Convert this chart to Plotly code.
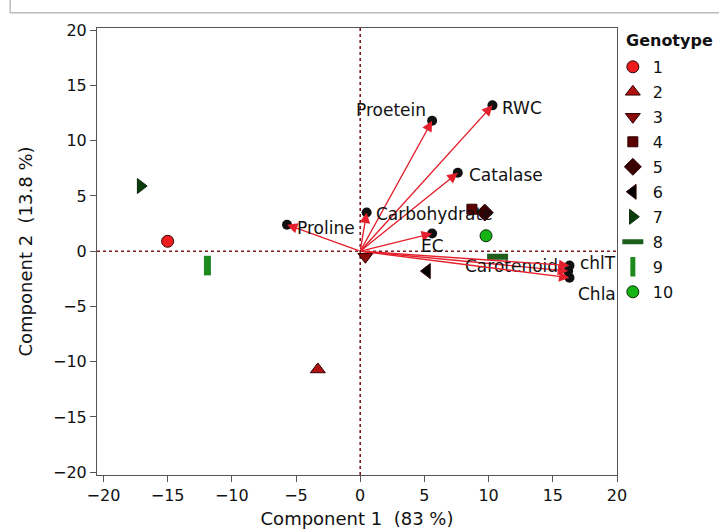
import plotly.graph_objects as go

# Genotype scores
genotypes = ["1", "2", "3", "4", "5", "6", "7", "8", "9", "10"]
score_x = [-15.0, -3.3, 0.4, 8.7, 9.7, 5.2, -17.1, 10.7, -11.9, 9.8]
score_y = [0.9, -10.7, -0.5, 3.8, 3.5, -1.8, 5.9, -0.5, -1.3, 1.4]
g_symbols = ["circle", "triangle-up", "triangle-down", "square", "diamond",
             "triangle-left", "triangle-right", "line-ew", "line-ns", "circle"]
g_colors = ["#ee1c1c", "#b01010", "#8a0a0a", "#5a0000", "#3a0000",
            "#000000", "#0b3d0b", "#1d5e1d", "#1c8a1c", "#14b414"]
g_sizes = [12, 13, 13, 10, 13, 13, 13, 15, 14, 12]

# Variable loadings (arrow ends)
variables = ["Proetein", "RWC", "Catalase", "Carbohydrate", "Proline", "EC",
             "Carotenoid", "chlT", "Chla"]
load_x = [5.6, 10.3, 7.6, 0.5, -5.7, 5.6, 16.2, 16.3, 16.3]
load_y = [11.8, 13.2, 7.1, 3.5, 2.4, 1.6, -1.8, -1.3, -2.4]
label_x = [5.3, 10.9, 8.3, 1.1, -5.1, 5.6, 8.0, 17.0, 16.8]
label_y = [12.8, 13.0, 6.9, 3.4, 2.1, 0.45, -1.35, -1.1, -3.9]
label_anchor = ["right", "left", "left", "left", "left", "center", "left", "left", "left"]

FONT = "DejaVu Sans"
FS = 16
fig = go.Figure()

# dotted reference lines
fig.add_shape(type="line", x0=0, x1=0, y0=-20.25, y1=20.2, xref="x", yref="y",
              line=dict(color="#7a1a1a", width=1.6, dash="dot"), layer="below")
fig.add_shape(type="line", x0=-20.5, x1=20, y0=0, y1=0, xref="x", yref="y",
              line=dict(color="#7a1a1a", width=1.6, dash="dot"), layer="below")

# loading end markers
fig.add_trace(go.Scatter(x=load_x, y=load_y, mode="markers", showlegend=False,
                         hoverinfo="skip",
                         marker=dict(symbol="circle", size=10, color="#111111")))

for i, g in enumerate(genotypes):
    sym = g_symbols[i]
    if sym == "line-ew":
        mk = dict(symbol=sym, size=g_sizes[i], line=dict(color=g_colors[i], width=6))
    elif sym == "line-ns":
        mk = dict(symbol=sym, size=g_sizes[i], line=dict(color=g_colors[i], width=7))
    else:
        mk = dict(symbol=sym, size=g_sizes[i], color=g_colors[i],
                  line=dict(color="#300000" if i < 6 else "#0a2a0a", width=1))
    fig.add_trace(go.Scatter(x=[score_x[i]], y=[score_y[i]], mode="markers",
                             name=g, legendgroup=g, marker=mk))

annotations = []
for i, v in enumerate(variables):
    annotations.append(dict(x=load_x[i], y=load_y[i], ax=0, ay=0, xref="x", yref="y",
                            axref="x", ayref="y", text="", showarrow=True,
                            arrowhead=2, arrowsize=1.5, arrowwidth=1.4,
                            arrowcolor="#e4202c"))
    annotations.append(dict(x=label_x[i], y=label_y[i], xref="x", yref="y",
                            text=v, showarrow=False, xanchor=label_anchor[i],
                            yanchor="middle",
                            font=dict(family=FONT, size=17, color="#111111")))

# legend title
annotations.append(dict(x=1.013, y=0.971, xref="paper", yref="paper",
                        text="<b>Genotype</b>", showarrow=False, xanchor="left",
                        yanchor="middle",
                        font=dict(family=FONT, size=FS, color="#111111")))

fig.update_layout(
    width=719, height=529,
    margin=dict(l=97, r=102, t=28, b=54, autoexpand=False),
    paper_bgcolor="white", plot_bgcolor="white",
    annotations=annotations,
    font=dict(family=FONT, size=FS, color="#111111"),
    legend=dict(x=0.992, y=0.951, xanchor="left", yanchor="top",
                font=dict(family=FONT, size=FS), tracegroupgap=1.2,
                bgcolor="rgba(0,0,0,0)"),
    xaxis=dict(range=[-20.5, 20], tickvals=list(range(-20, 21, 5)),
               showgrid=False, zeroline=False, showline=True, mirror=True,
               linecolor="#555555", linewidth=1, ticks="outside", ticklen=6,
               tickcolor="#555555", automargin=False,
               title=dict(text="Component 1  (83 %)",
                          font=dict(family=FONT, size=18))),
    yaxis=dict(range=[-20.25, 20.2], tickvals=list(range(-20, 21, 5)),
               showgrid=False, zeroline=False, showline=True, mirror=True,
               linecolor="#555555", linewidth=1, ticks="outside", ticklen=6,
               tickcolor="#555555", automargin=False,
               title=dict(text="Component 2  (13.8 %)",
                          font=dict(family=FONT, size=18))),
)

# window header remnant at top
fig.add_shape(type="line", xref="paper", yref="paper", x0=-0.167, x1=1.2,
              y0=1.034, y1=1.034, line=dict(color="#bbbbbb", width=1.5))
fig.add_shape(type="line", xref="paper", yref="paper", x0=-0.167, x1=-0.167,
              y0=1.034, y1=1.08, line=dict(color="#bbbbbb", width=1.5))

fig.write_html("out.html")
